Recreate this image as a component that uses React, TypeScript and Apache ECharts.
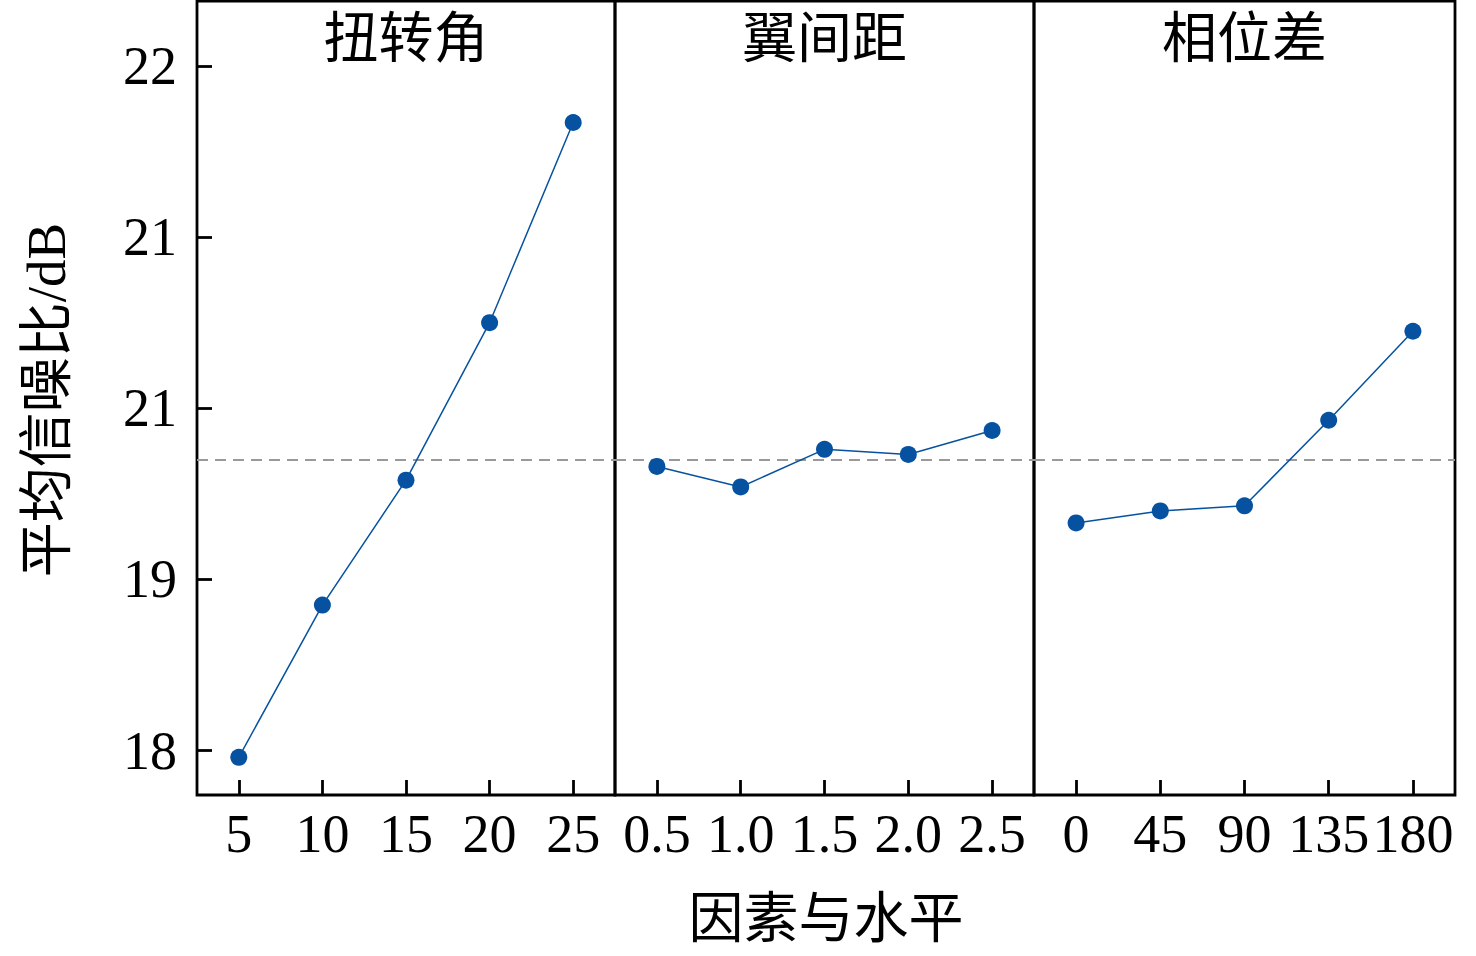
import React, { useEffect, useRef } from "react";
import * as echarts from "echarts";

// ---- data ----
const PANEL_TITLES = ["扭转角", "翼间距", "相位差"];
const X_TWIST = ["5", "10", "15", "20", "25"];
const X_SPACING = ["0.5", "1.0", "1.5", "2.0", "2.5"];
const X_PHASE = ["0", "45", "90", "135", "180"];
const SN_TWIST = [17.96, 18.85, 19.58, 20.5, 21.67];
const SN_SPACING = [19.66, 19.54, 19.76, 19.73, 19.87];
const SN_PHASE = [19.33, 19.4, 19.43, 19.93, 20.45];
const Y_TICK_VALUES = [18, 19, 20, 21, 22];
const Y_TICK_LABELS = ["18", "19", "21", "21", "22"];
const MEAN_SN = 19.7;
const Y_NAME = "平均信噪比/dB";
const X_NAME = "因素与水平";

const FONT = '"Liberation Serif", "Times New Roman", "Noto Sans CJK SC", serif';
const LINE_COLOR = "#0652a0";

export default function App() {
  const ref = useRef<HTMLDivElement>(null);

  useEffect(() => {
    if (!ref.current) return;
    const chart = echarts.init(ref.current, undefined, { renderer: "svg" });

    const yMin = 17.74;
    const yMax = 22.38;
    const top = 1;
    const height = 794;
    const panels = [
      { left: 197, width: 418 },
      { left: 615, width: 419 },
      { left: 1034, width: 421 },
    ];
    const cats = [X_TWIST, X_SPACING, X_PHASE];
    const vals = [SN_TWIST, SN_SPACING, SN_PHASE];

    const grids = panels.map((p) => ({
      left: p.left,
      top,
      width: p.width,
      height,
      show: true,
      borderColor: "#000",
      borderWidth: 2.8,
      backgroundColor: "transparent",
      containLabel: false,
      outerBoundsMode: "none",
    }));

    const xAxes = cats.map((c, i) => ({
      type: "category",
      gridIndex: i,
      data: c,
      boundaryGap: true,
      axisLine: { show: false },
      axisTick: {
        show: true,
        inside: true,
        alignWithLabel: true,
        length: 15,
        lineStyle: { color: "#000", width: 2.8 },
      },
      axisLabel: {
        show: true,
        interval: 0,
        margin: 12,
        color: "#000",
        fontFamily: FONT,
        fontSize: 54,
      },
      splitLine: { show: false },
    }));

    const yAxes = panels.map((_, i) => ({
      type: "value",
      gridIndex: i,
      min: yMin,
      max: yMax,
      axisLine: { show: false },
      axisTick: {
        show: i === 0,
        inside: true,
        length: 15,
        customValues: Y_TICK_VALUES,
        lineStyle: { color: "#000", width: 2.8 },
      },
      axisLabel: {
        show: i === 0,
        customValues: Y_TICK_VALUES,
        margin: 20,
        color: "#000",
        fontFamily: FONT,
        fontSize: 54,
        formatter: (v: number) => {
          const idx = Y_TICK_VALUES.findIndex((t) => Math.abs(t - v) < 1e-6);
          return idx >= 0 ? Y_TICK_LABELS[idx] : "";
        },
      },
      splitLine: { show: false },
    }));

    const series = vals.map((v, i) => ({
      type: "line",
      xAxisIndex: i,
      yAxisIndex: i,
      data: v,
      symbol: "circle",
      symbolSize: 17,
      itemStyle: { color: LINE_COLOR },
      lineStyle: { color: LINE_COLOR, width: 1.5 },
      z: 3,
      markLine: {
        silent: true,
        symbol: ["none", "none"],
        label: { show: false },
        lineStyle: { color: "#999", type: [11, 7], width: 2 },
        data: [{ yAxis: MEAN_SN }],
        z: 1,
      },
    }));

    const graphics: any[] = PANEL_TITLES.map((t, i) => ({
      type: "text",
      x: panels[i].left + panels[i].width / 2,
      y: 38,
      style: {
        text: t,
        fill: "#000",
        font: `55px ${FONT}`,
        textAlign: "center",
        textVerticalAlign: "middle",
      },
    }));
    graphics.push({
      type: "text",
      x: (panels[0].left + panels[2].left + panels[2].width) / 2,
      y: 918,
      style: {
        text: X_NAME,
        fill: "#000",
        font: `55px ${FONT}`,
        textAlign: "center",
        textVerticalAlign: "middle",
      },
    });
    graphics.push({
      type: "text",
      x: 46,
      y: 400,
      rotation: Math.PI / 2,
      style: {
        text: Y_NAME,
        fill: "#000",
        font: `55px ${FONT}`,
        textAlign: "center",
        textVerticalAlign: "middle",
      },
    });

    chart.setOption({
      animation: false,
      backgroundColor: "#fff",
      grid: grids,
      xAxis: xAxes,
      yAxis: yAxes,
      series,
      graphic: graphics,
    } as any);

    return () => chart.dispose();
  }, []);

  return (
    <div
      ref={ref}
      style={{ position: "fixed", left: 0, top: 0, width: 1476, height: 956 }}
    />
  );
}
